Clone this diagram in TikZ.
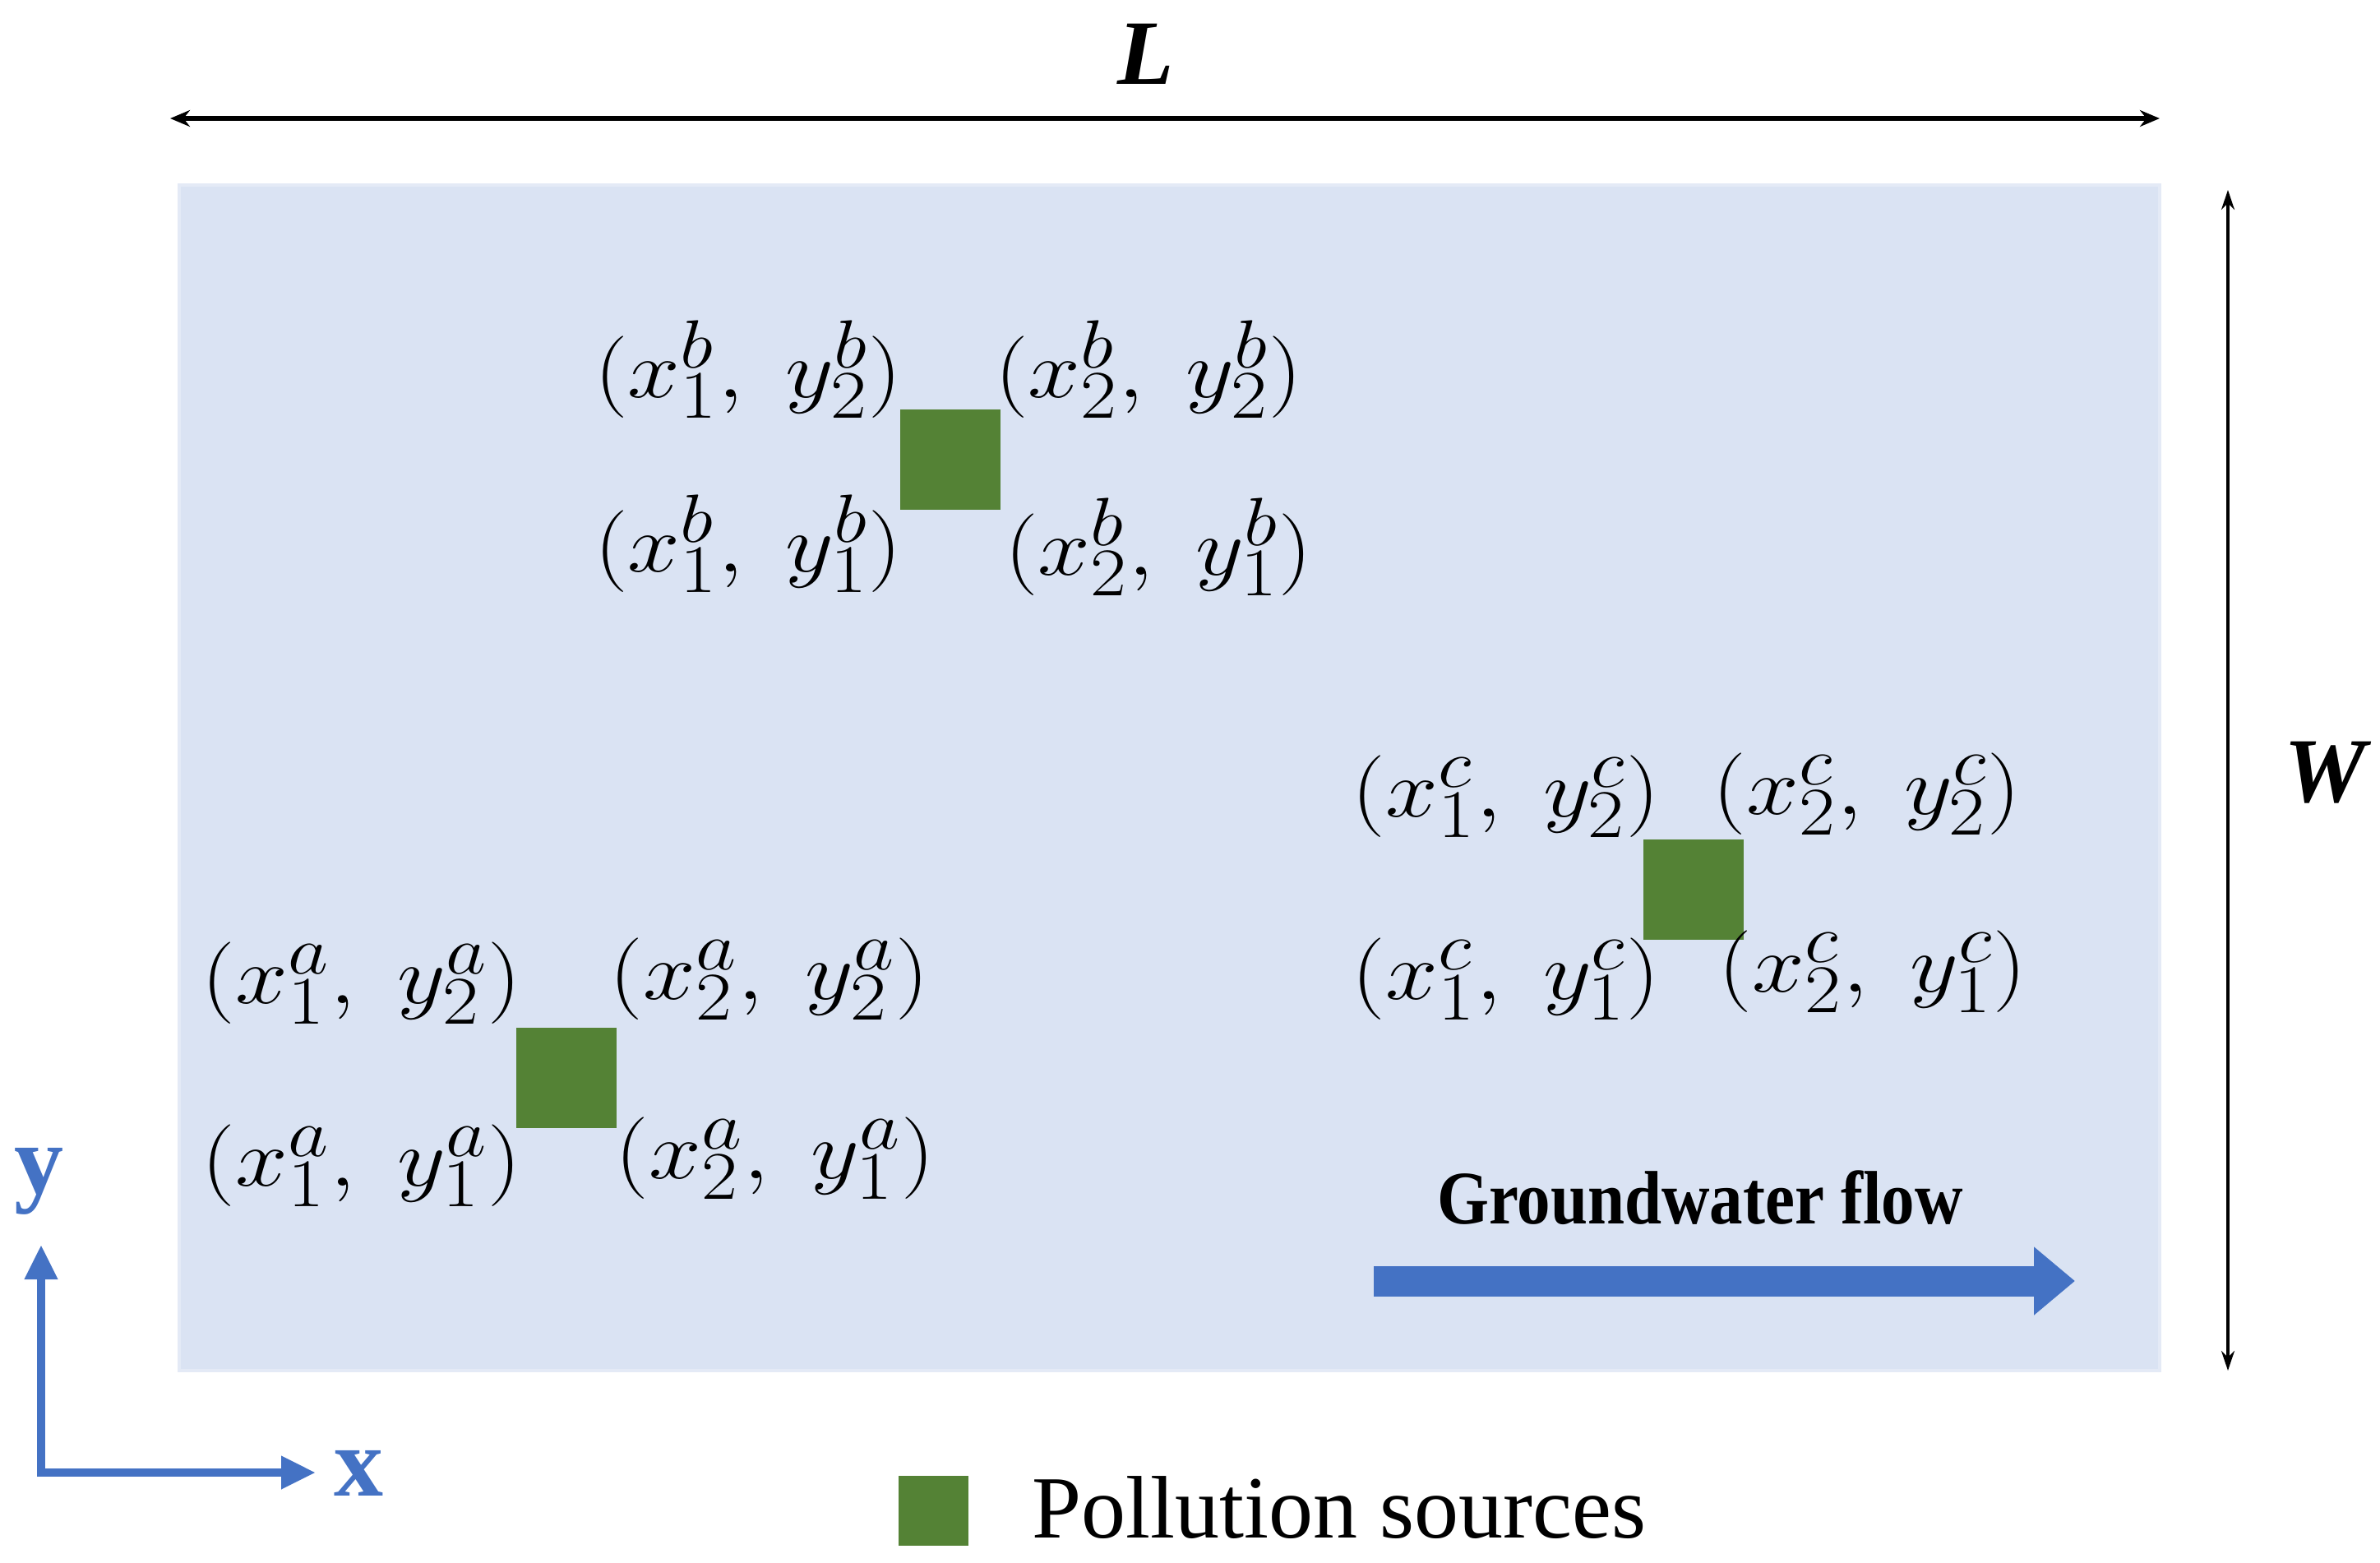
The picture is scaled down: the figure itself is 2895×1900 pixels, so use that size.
\documentclass[tikz,border=0pt]{standalone}
\usepackage{fontspec}
\newfontfamily\tnr{Liberation Serif}
\newfontfamily\tnrc[FakeStretch=0.88]{Liberation Serif}
\usetikzlibrary{arrows.meta}
\definecolor{bgblue}{HTML}{DAE3F3}
\definecolor{bgedge}{HTML}{E4EAF6}
\definecolor{srcgreen}{HTML}{548235}
\definecolor{flowblue}{HTML}{4472C4}
\newcommand{\cpt}[1]{\scalebox{1.15}[1]{$#1$}}
\begin{document}
\begin{tikzpicture}[x=0.25pt,y=-0.25pt,
  coord/.style={inner sep=0pt, font=\fontsize{29}{32}\selectfont},
  srcbox/.style={fill=srcgreen, draw=none, minimum size=30.5pt, inner sep=0pt},
  dimline/.style={draw=black, line width=1.3pt, {Stealth[length=6pt,width=5pt]}-{Stealth[length=6pt,width=5pt]}},
  dimlinew/.style={draw=black, line width=0.9pt, {Stealth[length=6pt,width=4pt]}-{Stealth[length=6pt,width=4pt]}},
  axisarrow/.style={draw=flowblue, line width=2.5pt, -{Triangle[length=10.5pt,width=9.5pt]}},
  flowarrow/.style={draw=flowblue, line width=9.25pt, -{Triangle[length=12.5pt,width=20pt]}},
  dimlabel/.style={inner sep=0pt, font=\fontsize{28}{30}\selectfont\tnr\bfseries\itshape},
  axislabel/.style={inner sep=0pt, text=flowblue, font=\fontsize{30}{32}\selectfont\tnr\bfseries}
]
\useasboundingbox (0,0) rectangle (2895,1900);
% domain
\filldraw[fill=bgblue, draw=bgedge, line width=1pt] (218,225) rectangle (2627,1667);

% dimension arrows
\coordinate (La) at (207,144);
\coordinate (Lb) at (2627,144);
\draw[dimline] (La) -- (Lb);
\node[dimlabel, anchor=base] (Ltxt) at (1394,102) {L};
\coordinate (Wa) at (2710,231);
\coordinate (Wb) at (2710,1667);
\draw[dimlinew] (Wa) -- (Wb);
\node[dimlabel, anchor=base] (Wtxt) at (2828,975) {W};

% source b
\node[srcbox] (sb) at (1156,559) {};
\node[coord] (b12) at (910,449) {\cpt{(x_1^b,\; y_2^b)}};
\node[coord] (b22) at (1397,449) {\cpt{(x_2^b,\; y_2^b)}};
\node[coord] (b11) at (910,661) {\cpt{(x_1^b,\; y_1^b)}};
\node[coord] (b21) at (1409,665) {\cpt{(x_2^b,\; y_1^b)}};

% source a
\node[srcbox] (sa) at (689,1311) {};
\node[coord] (a12) at (440,1196) {\cpt{(x_1^a,\; y_2^a)}};
\node[coord] (a22) at (936,1191) {\cpt{(x_2^a,\; y_2^a)}};
\node[coord] (a11) at (440,1418) {\cpt{(x_1^a,\; y_1^a)}};
\node[coord] (a21) at (943,1409) {\cpt{(x_2^a,\; y_1^a)}};

% source c
\node[srcbox] (sc) at (2060,1082) {};
\node[coord] (c12) at (1832,969) {\cpt{(x_1^c,\; y_2^c)}};
\node[coord] (c22) at (2271,966) {\cpt{(x_2^c,\; y_2^c)}};
\node[coord] (c11) at (1832,1191) {\cpt{(x_1^c,\; y_1^c)}};
\node[coord] (c21) at (2278,1182) {\cpt{(x_2^c,\; y_1^c)}};

% groundwater flow
\node[inner sep=0pt, anchor=base, font=\fontsize{23}{26}\selectfont\tnrc\bfseries] (gwf) at (2068,1488) {Groundwater flow};
\coordinate (fs) at (1671,1558);
\coordinate (fe) at (2524,1558);
\draw[flowarrow] (fs) -- (fe);

% axes
\coordinate (o) at (50,1791);
\coordinate (yt) at (50,1514);
\coordinate (xt) at (384,1791);
\draw[axisarrow] ([yshift=-1.25pt]o) -- (yt);
\draw[axisarrow] (o) -- (xt);
\node[axislabel, anchor=base] (ylab) at (48,1451) {y};
\node[axislabel, anchor=base] (xlab) at (436,1819) {x};

% legend
\node[fill=srcgreen, minimum size=21.25pt, inner sep=0pt] (legbox) at (1135,1837) {};
\node[inner sep=0pt, anchor=base west, font=\fontsize{27}{30}\selectfont\tnr] (legtxt) at (1255,1870) {Pollution sources};
\end{tikzpicture}
\end{document}
